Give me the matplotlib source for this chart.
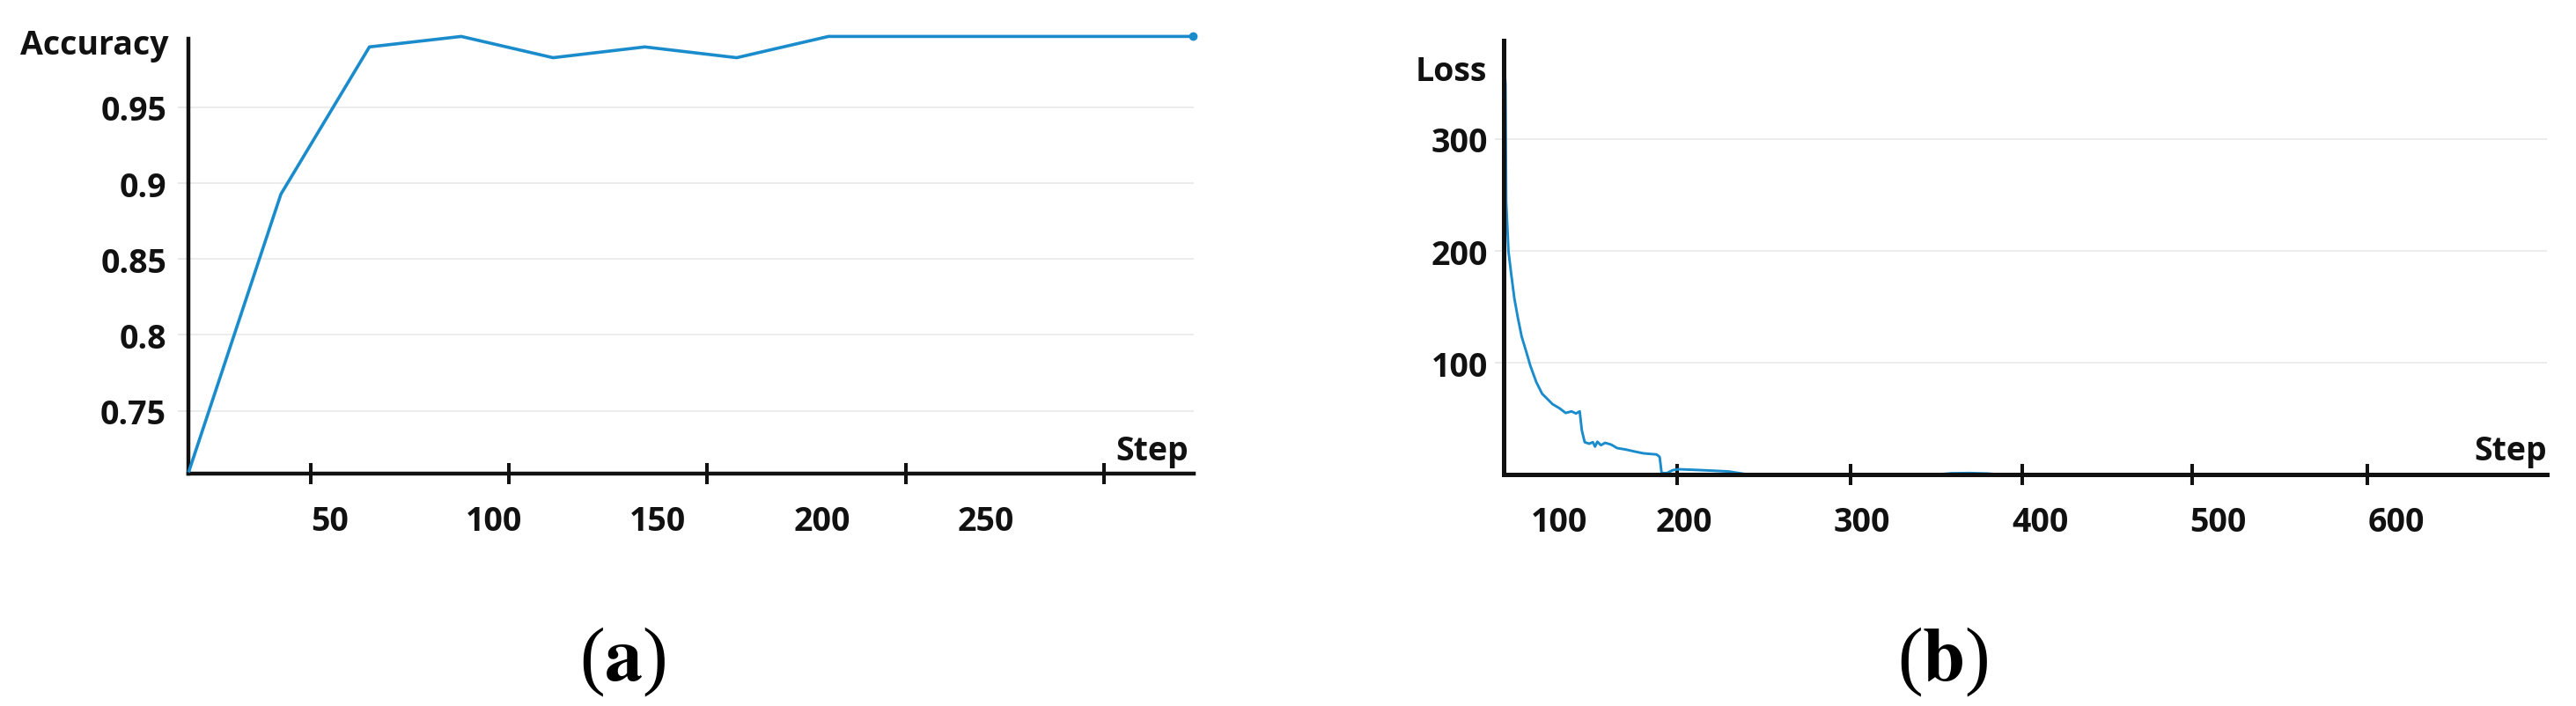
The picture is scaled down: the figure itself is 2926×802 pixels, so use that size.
import numpy as np
import matplotlib
matplotlib.use("Agg")
import matplotlib.pyplot as plt

plt.rcParams['font.family'] = ['Open Sans', 'DejaVu Sans']
plt.rcParams['font.weight'] = 'bold'

# accuracy curve (a)
acc_steps = [7, 35, 62, 90, 118, 146, 174, 202, 229, 257, 285, 313]
acc_vals = [0.7105, 0.8927, 0.9897, 0.9966, 0.9826, 0.9897, 0.9826,
            0.9966, 0.9966, 0.9966, 0.9966, 0.9966]
acc_yticks = [0.75, 0.8, 0.85, 0.9, 0.95]
acc_xlabels = [50, 100, 150, 200, 250]
acc_xmarks = [44, 104.5, 165, 225.5, 286]

# loss curve (b)
loss_steps = [98.8, 99.6, 100, 101.3, 102.9, 104.6, 106.7, 108.7, 111.2, 113.6,
              116.9, 120.2, 122.7, 126.0, 130.1, 133.4, 136.7, 139.2, 141.3, 142.5,
              144.1, 146.6, 148.7, 149.9, 151.2, 153.2, 155.6, 159.0, 162.3, 167.2,
              172.2, 177.1, 184.5, 186.2, 187.3, 190.3, 193.6, 196.9, 205, 215,
              225, 231, 236, 340, 350, 360, 370, 380, 684]
loss_vals = [370, 349, 244, 199.5, 178.5, 157.5, 139.2, 123.5, 110.4, 97.3,
             82.9, 72.4, 68.5, 63.2, 59.3, 55.3, 56.7, 54.8, 56.7, 39.6,
             29.2, 27.8, 29.2, 25.2, 29.6, 26.5, 28.6, 27.0, 23.9, 22.6,
             20.8, 19.2, 18.2, 16.0, 1.6, 1.6, 4.2, 5.0, 4.5, 3.8,
             3.0, 1.5, 0.3, 0, 1.4, 1.6, 1.2, 0, 0]
loss_yticks = [100, 200, 300]
loss_xlabel_pos = [130, 200, 300, 400, 500, 600]
loss_xlabels = ['100', '200', '300', '400', '500', '600']
loss_xmarks = [196, 293.4, 389.9, 485.3, 583.7]

blue = '#1a8ccc'
grid_c = '#e9e9e9'
ink = '#111111'
FS = 27


def style_axes(ax, spine_w, ytick_pad, ytick_len):
    for s in ['top', 'right']:
        ax.spines[s].set_visible(False)
    for s in ['left', 'bottom']:
        ax.spines[s].set_linewidth(spine_w)
        ax.spines[s].set_color(ink)
    ax.grid(axis='y', color=grid_c, linewidth=1.2)
    ax.set_axisbelow(True)
    ax.tick_params(axis='y', which='major', direction='out', length=ytick_len,
                   width=1.4, color=grid_c, pad=ytick_pad, labelsize=FS,
                   labelcolor=ink)
    ax.tick_params(axis='x', which='major', length=0, pad=25, labelsize=FS,
                   labelcolor=ink)
    ax.tick_params(axis='x', which='minor', direction='inout', length=16.6,
                   width=2.9, color=ink)


fig = plt.figure(figsize=(29.26, 8.03), dpi=100)

# (a)
ax1 = fig.add_axes([0.07314, 0.32815, 0.39029, 0.61519])
ax1.plot(acc_steps, acc_vals, color=blue, lw=2.6, clip_on=False, zorder=3)
ax1.plot(acc_steps[-1:], acc_vals[-1:], 'o', color=blue, ms=6, clip_on=False, zorder=3)
ax1.set_xlim(6.8, 313.4)
ax1.set_ylim(0.7084, 0.9948)
style_axes(ax1, 3.2, 9.4, 8.6)
ax1.set_yticks(acc_yticks)
ax1.set_yticklabels([f'{v:g}' for v in acc_yticks])
ax1.set_xticks(acc_xlabels)
ax1.set_xticklabels([str(v) for v in acc_xlabels])
ax1.set_xticks(acc_xmarks, minor=True)
ax1.text(-0.0193, 0.987, 'Accuracy', transform=ax1.transAxes, ha='right',
         va='center', fontsize=FS, fontweight='bold', color=ink)
ax1.text(0.9588, 0.0334, 'Step', transform=ax1.transAxes, ha='center',
         va='baseline', fontsize=FS, fontweight='bold', color=ink)

# (b)
ax2 = fig.add_axes([0.58373, 0.32702, 0.40489, 0.61408])
ax2.plot(loss_steps, loss_vals, color=blue, lw=2.1, clip_on=False, zorder=2)
ax2.set_xlim(98.6, 684.4)
ax2.set_ylim(0, 387.8)
style_axes(ax2, 3.6, 5.8, 7.2)
ax2.set_yticks(loss_yticks)
ax2.set_yticklabels([str(v) for v in loss_yticks])
ax2.set_xticks(loss_xlabel_pos)
ax2.set_xticklabels(loss_xlabels)
ax2.set_xticks(loss_xmarks, minor=True)
ax2.text(-0.016, 0.9296, 'Loss', transform=ax2.transAxes, ha='right',
         va='center', fontsize=FS, fontweight='bold', color=ink)
ax2.text(0.9654, 0.0353, 'Step', transform=ax2.transAxes, ha='center',
         va='baseline', fontsize=FS, fontweight='bold', color=ink)

# panel captions
for xc, letter in [(0.2416, 'a'), (0.7543, 'b')]:
    fig.text(xc, 0.0635, '(' + r'$\mathbf{' + letter + '}$' + ')', ha='center',
             va='center', fontsize=62, family='Liberation Serif',
             fontweight='normal', color='black',
             math_fontfamily='stix')

fig.savefig('out.png', dpi=100, facecolor='white')
